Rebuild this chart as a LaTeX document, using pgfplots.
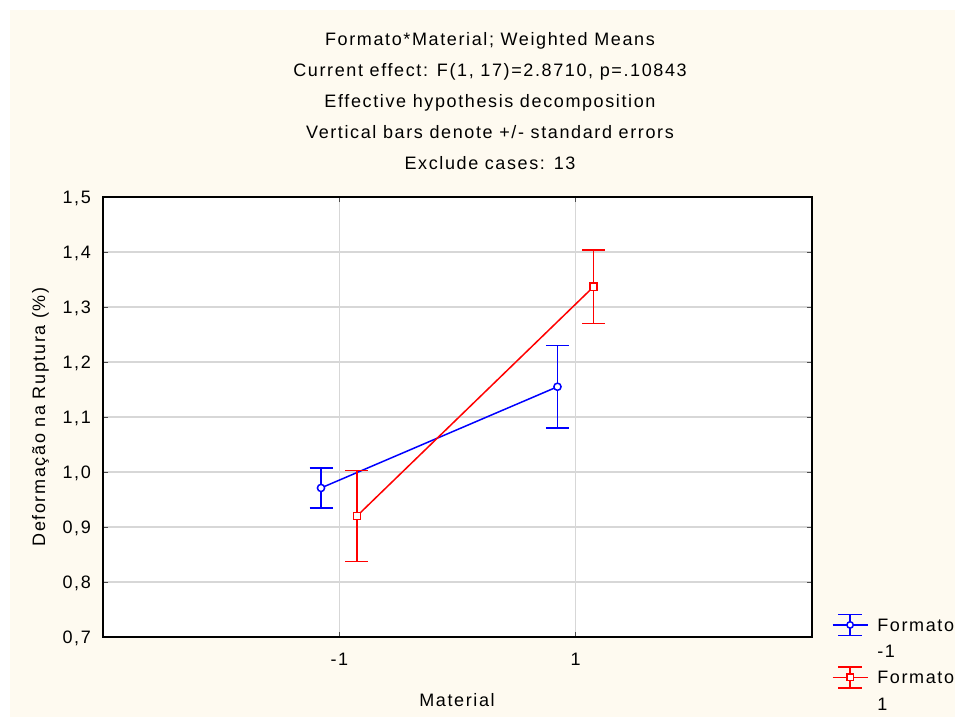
\documentclass[border=0pt]{standalone}
\usepackage{fontspec}
\setmainfont{Liberation Sans}[LetterSpace=9]
\usepackage{pgfplots}
\usepackage{pgfplotstable}
\pgfplotsset{compat=1.18}

\definecolor{cream}{RGB}{254,250,240}
\definecolor{gridgray}{RGB}{215,215,215}
\definecolor{sblue}{RGB}{0,0,255}
\definecolor{sred}{RGB}{255,0,0}

% means and standard errors, Formato -1 / Formato 1
\pgfplotstableread{
x      y     e
-1.155 0.971 0.036
0.846  1.155 0.075
}\fmtneg
\pgfplotstableread{
x      y     e
-0.851 0.920 0.083
1.152  1.337 0.067
}\fmtpos

\pgfplotsset{
  legcirc/.style={legend image code/.code={
    \draw[sblue, line width=1.5pt] (0pt,0pt) -- (35pt,0pt)
        (17.5pt,-10.5pt) -- (17.5pt,10.5pt)
        (5.5pt,10.5pt) -- (29.5pt,10.5pt)
        (5.5pt,-10.5pt) -- (29.5pt,-10.5pt);
    \draw[sblue, line width=1.5pt, fill=white] (17.5pt,0pt) circle (3.2pt);
  }},
  legsq/.style={legend image code/.code={
    \draw[sred, line width=1.5pt] (0pt,0pt) -- (35pt,0pt)
        (17.5pt,-10.5pt) -- (17.5pt,10.5pt)
        (5.5pt,10.5pt) -- (29.5pt,10.5pt)
        (5.5pt,-10.5pt) -- (29.5pt,-10.5pt);
    \draw[sred, line width=1.5pt, fill=white] (14.3pt,-3.2pt) rectangle (20.7pt,3.2pt);
  }},
  errstyle/.style={
    error bars/y dir=both, error bars/y explicit,
    error bars/draw error bar/.code 2 args={
      \path ##1 coordinate (eblo) ##2 coordinate (ebhi);
      \draw[#1, line width=1.5pt] (eblo) -- (ebhi)
          ([xshift=-11.5pt]ebhi) -- ([xshift=11.5pt]ebhi);
    },
  },
}

\begin{document}
\begin{tikzpicture}
\fill[white] (0pt,0pt) rectangle (955pt,717pt);
\fill[cream] (10pt,0pt) rectangle (955pt,707pt);
\useasboundingbox (0pt,0pt) rectangle (955pt,717pt);

\begin{axis}[
    at={(103pt,80pt)}, anchor=south west,
    scale only axis, width=709pt, height=440pt,
    font=\fontsize{18}{21.6}\selectfont,
    xmin=-3, xmax=3, ymin=0.7, ymax=1.5,
    xtick={-1,1}, xticklabels={-1,1},
    ytick={0.7,0.8,0.9,1.0,1.1,1.2,1.3,1.4,1.5},
    yticklabels={{0,7},{0,8},{0,9},{1,0},{1,1},{1,2},{1,3},{1,4},{1,5}},
    xticklabel style={anchor=base, yshift=-28pt},
    yticklabel style={anchor=base east, inner xsep=0pt, xshift=-12pt, yshift=-6.5pt},
    grid=major, grid style={gridgray, line width=1.6pt},
    axis line style={black, line width=1.5pt},
    axis background/.style={fill=white},
    tick align=inside, major tick length=5pt,
    tick style={black!70, line width=1pt},
    legend style={draw=none, fill=none, inner sep=0pt, outer sep=0pt,
        at={(rel axis cs:1.028,0.053)}, anchor=north west,
        font=\fontsize{18}{21.6}\selectfont,
        row sep=8.5pt, column sep=9pt,
        nodes={inner sep=0pt, text height=13pt, text depth=0pt}},
    legend cell align=left,
]

\addplot[sblue, line width=1.5pt, mark=*, mark size=3.6pt,
    mark options={fill=white, solid}, legcirc, errstyle=sblue]
    table[x=x, y=y, y error=e] {\fmtneg};
\addlegendentry{Formato}
\addlegendimage{empty legend}
\addlegendentry{-1}

\addplot[sred, line width=1.5pt, mark=square*, mark size=3.6pt,
    mark options={fill=white, solid}, legsq, errstyle=sred]
    table[x=x, y=y, y error=e] {\fmtpos};
\addlegendentry{Formato}
\addlegendimage{empty legend}
\addlegendentry{1}

\end{axis}

\begin{scope}[font=\fontsize{18}{21.6}\selectfont]
\node[anchor=base] at (490pt,671pt) {Formato*Material; Weighted Means};
\node[anchor=base] at (490pt,640pt) {Current effect: F(1, 17)=2.8710, p=.10843};
\node[anchor=base] at (490pt,609pt) {Effective hypothesis decomposition};
\node[anchor=base] at (490pt,578pt) {Vertical bars denote +/- standard errors};
\node[anchor=base] at (490pt,547pt) {Exclude cases: 13};
\node[anchor=base] at (457pt,11pt) {Material};
\node[anchor=base, rotate=90] at (45pt,300pt) {Deformação na Ruptura (\%)};
\end{scope}
\end{tikzpicture}
\end{document}
